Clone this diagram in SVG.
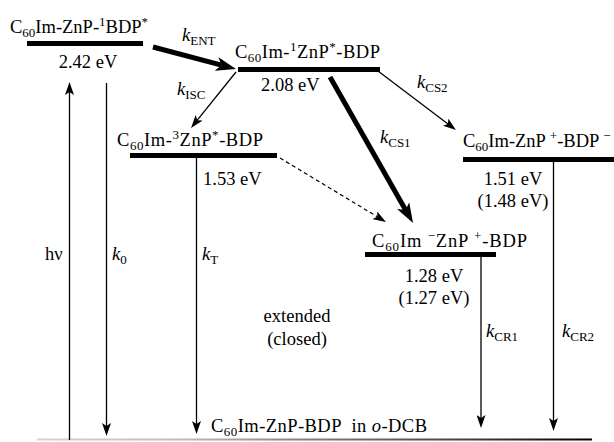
<svg xmlns="http://www.w3.org/2000/svg" width="614" height="442" viewBox="0 0 614 442">
  <style>
    text { font-family: "Liberation Serif", Tinos, "Times New Roman", "DejaVu Serif", serif; font-size: 18.5px; fill: #000; }
    .s { font-size: 13px; }
    .k { font-style: italic; }
    .mid { text-anchor: middle; }
    .bar { fill: #000; }
    .thin { stroke: #000; stroke-width: 1.3; fill: none; }
    .thick { stroke: #000; stroke-width: 5; fill: none; }
    .dash { stroke: #000; stroke-width: 1.2; stroke-dasharray: 4 3; fill: none; }
  </style>
  <defs>
    <marker id="ah" markerUnits="userSpaceOnUse" markerWidth="13" markerHeight="9" refX="3" refY="4.5" orient="auto">
      <path d="M0,0 L13,4.5 L0,9 L3,4.5 z" fill="#000"/>
    </marker>
    <marker id="ahb" markerUnits="userSpaceOnUse" markerWidth="20" markerHeight="14" refX="5" refY="7" orient="auto">
      <path d="M0,0 L20,7 L0,14 L5,7 z" fill="#000"/>
    </marker>
    <linearGradient id="base" x1="37" y1="0" x2="592" y2="0" gradientUnits="userSpaceOnUse">
      <stop offset="0" stop-color="#d4d4d4"/>
      <stop offset="0.25" stop-color="#bdbdbd"/>
      <stop offset="0.45" stop-color="#8a8a8a"/>
      <stop offset="0.8" stop-color="#3a3a3a"/>
      <stop offset="1" stop-color="#000"/>
    </linearGradient>
  </defs>

  <!-- ground state baseline -->
  <g id="ground">
    <line x1="37" y1="439.5" x2="592" y2="439.5" stroke="url(#base)" stroke-width="2"/>
    <text x="211" y="432" xml:space="preserve" textLength="216" lengthAdjust="spacing">C<tspan class="s" dy="4">60</tspan><tspan dy="-4">Im-ZnP-BDP  in </tspan><tspan class="k">o</tspan>-DCB</text>
  </g>

  <!-- singlet BDP excited state -->
  <g id="s1-bdp">
    <rect class="bar" x="27" y="41" width="116" height="5"/>
    <text x="10" y="33">C<tspan class="s" dy="4">60</tspan><tspan dy="-4">Im-ZnP-</tspan><tspan class="s" dy="-7">1</tspan><tspan dy="7">BDP</tspan><tspan class="s" dy="-7">*</tspan></text>
    <text class="mid" x="88" y="68">2.42 eV</text>
  </g>

  <!-- singlet ZnP excited state -->
  <g id="s1-znp">
    <rect class="bar" x="238" y="67" width="142" height="5"/>
    <text x="235" y="58" textLength="145" lengthAdjust="spacing">C<tspan class="s" dy="4">60</tspan><tspan dy="-4">Im-</tspan><tspan class="s" dy="-7">1</tspan><tspan dy="7">ZnP</tspan><tspan class="s" dy="-7">*</tspan><tspan dy="7">-BDP</tspan></text>
    <text x="261" y="91">2.08 eV</text>
  </g>

  <!-- triplet ZnP excited state -->
  <g id="t1-znp">
    <rect class="bar" x="130" y="153" width="147" height="5"/>
    <text x="117" y="146" textLength="146" lengthAdjust="spacing">C<tspan class="s" dy="4">60</tspan><tspan dy="-4">Im-</tspan><tspan class="s" dy="-7">3</tspan><tspan dy="7">ZnP</tspan><tspan class="s" dy="-7">*</tspan><tspan dy="7">-BDP</tspan></text>
    <text x="203" y="185">1.53 eV</text>
  </g>

  <!-- radical ion pair C60•− / ZnP•+ -->
  <g id="cs1">
    <rect class="bar" x="365" y="252" width="131" height="5"/>
    <text x="372" y="247" xml:space="preserve" textLength="155" lengthAdjust="spacing">C<tspan class="s" dy="4">60</tspan><tspan dy="-4">Im </tspan><tspan class="s" dy="-7">−</tspan><tspan dy="7">ZnP </tspan><tspan class="s" dy="-7">+</tspan><tspan dy="7">-BDP</tspan></text>
    <text class="mid" x="434" y="282">1.28 eV</text>
    <text class="mid" x="434" y="304">(1.27 eV)</text>
  </g>

  <!-- radical ion pair ZnP•+ / BDP•− -->
  <g id="cs2">
    <rect class="bar" x="463" y="157" width="151" height="5"/>
    <text x="463" y="147" xml:space="preserve">C<tspan class="s" dy="4">60</tspan><tspan dy="-4">Im-ZnP </tspan><tspan class="s" dy="-7">+</tspan><tspan dy="7">-BDP </tspan><tspan class="s" dy="-7">−</tspan></text>
    <text class="mid" x="513" y="185">1.51 eV</text>
    <text class="mid" x="513" y="207">(1.48 eV)</text>
  </g>

  <!-- transitions -->
  <g id="connectors">
    <line class="thin" x1="69.5" y1="440" x2="69.5" y2="92" marker-end="url(#ah)"/>
    <line class="thin" x1="106.5" y1="83" x2="106.5" y2="426" marker-end="url(#ah)"/>
    <line class="thin" x1="196.5" y1="158" x2="196.5" y2="424" marker-end="url(#ah)"/>
    <line class="thin" x1="481" y1="256" x2="481" y2="418" marker-end="url(#ah)"/>
    <line class="thin" x1="553.5" y1="161" x2="553.5" y2="421" marker-end="url(#ah)"/>
    <line class="thick" x1="153" y1="47" x2="221.5" y2="65.2" marker-end="url(#ahb)"/>
    <line class="thin" x1="236" y1="72" x2="197.3" y2="120.2" marker-end="url(#ah)"/>
    <line class="thin" x1="378" y1="71" x2="448" y2="124" marker-end="url(#ah)"/>
    <line class="thick" x1="330" y1="77" x2="405.6" y2="210" marker-end="url(#ahb)"/>
    <line class="dash" x1="280" y1="158" x2="377.4" y2="216.8" marker-end="url(#ah)"/>
  </g>

  <!-- rate constant labels -->
  <g id="labels">
    <text x="45" y="260">hν</text>
    <text x="112" y="260"><tspan class="k">k</tspan><tspan class="s" dy="4">0</tspan></text>
    <text x="202" y="260"><tspan class="k">k</tspan><tspan class="s" dy="4">T</tspan></text>
    <text x="182" y="41"><tspan class="k">k</tspan><tspan class="s" dy="4">ENT</tspan></text>
    <text x="177" y="95"><tspan class="k">k</tspan><tspan class="s" dy="4">ISC</tspan></text>
    <text x="417" y="88"><tspan class="k">k</tspan><tspan class="s" dy="4">CS2</tspan></text>
    <text x="380" y="143"><tspan class="k">k</tspan><tspan class="s" dy="4">CS1</tspan></text>
    <text x="486" y="337"><tspan class="k">k</tspan><tspan class="s" dy="4">CR1</tspan></text>
    <text x="562" y="337"><tspan class="k">k</tspan><tspan class="s" dy="4">CR2</tspan></text>
    <text class="mid" x="297" y="322">extended</text>
    <text class="mid" x="297" y="345">(closed)</text>
  </g>
</svg>
